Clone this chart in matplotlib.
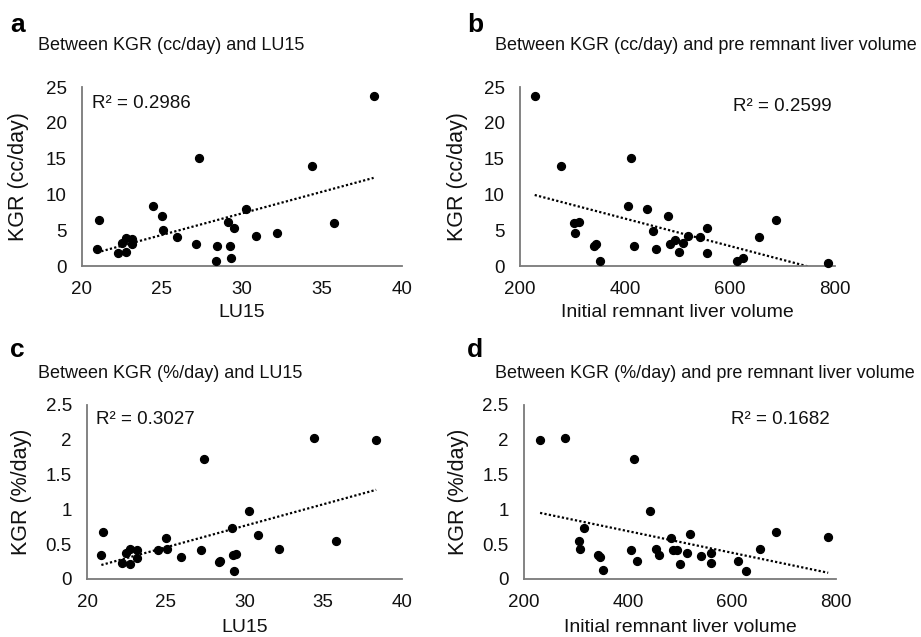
import numpy as np
import matplotlib.pyplot as plt

plt.rcParams['font.family'] = ['Liberation Sans', 'DejaVu Sans']

# ---- data ----
# a: KGR (cc/day) vs LU15
lu15_a = [38.23, 27.33, 34.40, 21.04, 24.46, 24.98, 25.04, 30.27, 29.15, 29.48,
          35.77, 20.94, 22.23, 22.75, 22.52, 22.75, 23.13, 23.13, 25.94, 27.13,
          28.44, 28.35, 29.23, 29.29, 30.88, 32.17]
kgr_cc_a = [23.8, 15.07, 14.0, 6.42, 8.33, 7.02, 4.98, 7.95, 6.14, 5.30,
            6.05, 2.33, 1.77, 1.91, 3.26, 3.95, 3.72, 3.07, 4.0, 3.07,
            2.84, 0.74, 2.84, 1.16, 4.14, 4.56]

# b: KGR (cc/day) vs initial remnant liver volume
vol_b = [228, 278, 412, 405, 441, 482, 687, 302, 312, 304, 341, 344, 352, 418,
         454, 460, 486, 496, 502, 511, 520, 542, 557, 557, 613, 625, 655, 787]
kgr_cc_b = [23.77, 14.0, 15.07, 8.33, 7.91, 7.02, 6.47, 6.0, 6.14, 4.56, 2.84,
            3.12, 0.74, 2.84, 4.93, 2.33, 3.07, 3.67, 1.91, 3.26, 4.14, 4.0,
            5.30, 1.77, 0.74, 1.16, 4.0, 0.47]

# c: KGR (%/day) vs LU15
lu15_c = [38.36, 34.43, 27.40, 30.28, 29.21, 30.87, 35.83, 21.04, 20.91, 25.0,
          25.06, 24.53, 23.19, 23.19, 22.72, 22.49, 22.23, 22.74, 25.94, 27.21,
          28.45, 28.38, 29.26, 29.47, 29.34, 32.21]
kgr_pct_c = [1.99, 2.02, 1.72, 0.98, 0.73, 0.63, 0.55, 0.67, 0.34, 0.59,
             0.43, 0.41, 0.41, 0.30, 0.43, 0.38, 0.23, 0.21, 0.32, 0.41,
             0.26, 0.25, 0.34, 0.36, 0.11, 0.43]

# d: KGR (%/day) vs initial remnant liver volume
vol_d = [231, 279, 412, 442, 685, 785, 316, 306, 308, 342, 346, 352, 406, 418,
         454, 460, 483, 486, 495, 513, 501, 519, 541, 559, 559, 612, 626, 653]
kgr_pct_d = [1.99, 2.02, 1.72, 0.98, 0.67, 0.61, 0.73, 0.55, 0.43, 0.34, 0.31,
             0.13, 0.41, 0.26, 0.43, 0.34, 0.59, 0.41, 0.41, 0.38, 0.22, 0.64,
             0.33, 0.37, 0.23, 0.26, 0.11, 0.43]

r2_text = ['R² = 0.2986', 'R² = 0.2599', 'R² = 0.3027', 'R² = 0.1682']
titles = ['Between KGR (cc/day) and LU15',
          'Between KGR (cc/day) and pre remnant liver volume',
          'Between KGR (%/day) and LU15',
          'Between KGR (%/day) and pre remnant liver volume']
letters = ['a', 'b', 'c', 'd']

fig = plt.figure(figsize=(9.21, 6.37), dpi=100)

panels = [
    dict(x=lu15_a, y=kgr_cc_a, rect=[0.0890, 0.5824, 0.3474, 0.2810],
         xlim=(20, 40), xt=[20, 25, 30, 35, 40], ylim=(0, 25), yt=[0, 5, 10, 15, 20, 25],
         xl='LU15', yl='KGR (cc/day)', r2pos=(0.031, 0.91, 'left'), ylx=-0.165, xly=-0.21),
    dict(x=vol_b, y=kgr_cc_b, rect=[0.5646, 0.5824, 0.3420, 0.2810],
         xlim=(200, 800), xt=[200, 400, 600, 800], ylim=(0, 25), yt=[0, 5, 10, 15, 20, 25],
         xl='Initial remnant liver volume', yl='KGR (cc/day)', r2pos=(0.99, 0.89, 'right'),
         ylx=-0.165, xly=-0.21),
    dict(x=lu15_c, y=kgr_pct_c, rect=[0.0945, 0.0911, 0.3420, 0.2732],
         xlim=(20, 40), xt=[20, 25, 30, 35, 40], ylim=(0, 2.5), yt=[0, 0.5, 1, 1.5, 2, 2.5],
         xl='LU15', yl='KGR (%/day)', r2pos=(0.029, 0.914, 'left'), ylx=-0.175, xly=-0.23),
    dict(x=vol_d, y=kgr_pct_d, rect=[0.5689, 0.0911, 0.3388, 0.2732],
         xlim=(200, 800), xt=[200, 400, 600, 800], ylim=(0, 2.5), yt=[0, 0.5, 1, 1.5, 2, 2.5],
         xl='Initial remnant liver volume', yl='KGR (%/day)', r2pos=(0.98, 0.914, 'right'),
         ylx=-0.176, xly=-0.23),
]

for i, p in enumerate(panels):
    ax = fig.add_axes(p['rect'])
    x = np.array(p['x'], dtype=float)
    y = np.array(p['y'], dtype=float)
    ax.scatter(x, y, s=32, color='black', zorder=3, clip_on=False)
    # linear trendline over the data range
    k, b = np.polyfit(x, y, 1)
    xx = np.array([x.min(), x.max()])
    ax.plot(xx, k * xx + b, color='black', lw=1.6, linestyle=(0, (1, 1)), zorder=2)
    ax.set_xlim(*p['xlim'])
    ax.set_ylim(*p['ylim'])
    ax.set_xticks(p['xt'])
    ax.set_yticks(p['yt'])
    ax.set_yticklabels(['{:g}'.format(v) for v in p['yt']])
    for s in ['top', 'right']:
        ax.spines[s].set_visible(False)
    for s in ['left', 'bottom']:
        ax.spines[s].set_color('#7a7a7a')
        ax.spines[s].set_linewidth(1.3)
    ax.tick_params(length=0, labelsize=13.5, colors='#111111', pad=11)
    ax.set_xlabel(p['xl'], fontsize=14, color='#111111')
    ax.set_ylabel(p['yl'], fontsize=15.5, color='#111111')
    ax.xaxis.set_label_coords(0.5, p['xly'])
    ax.yaxis.set_label_coords(p['ylx'], 0.5)
    rx, ry, ha = p['r2pos']
    ax.text(rx, ry, r2_text[i], transform=ax.transAxes, ha=ha, va='center',
            fontsize=13.5, color='#111111')

# panel letters and titles
title_pos = [(38, 50), (495, 50), (38, 378), (495, 378)]
letter_pos = [(10, 32), (467, 32), (10, 357), (467, 357)]
for i in range(4):
    tx, ty = title_pos[i]
    fig.text(tx / 921, 1 - ty / 637, titles[i], fontsize=13, color='#111111',
             va='baseline', ha='left')
    lx, ly = letter_pos[i]
    fig.text(lx / 921, 1 - ly / 637, letters[i], fontsize=19, fontweight='bold',
             va='baseline', ha='left')

fig.savefig('out.png', dpi=100)
